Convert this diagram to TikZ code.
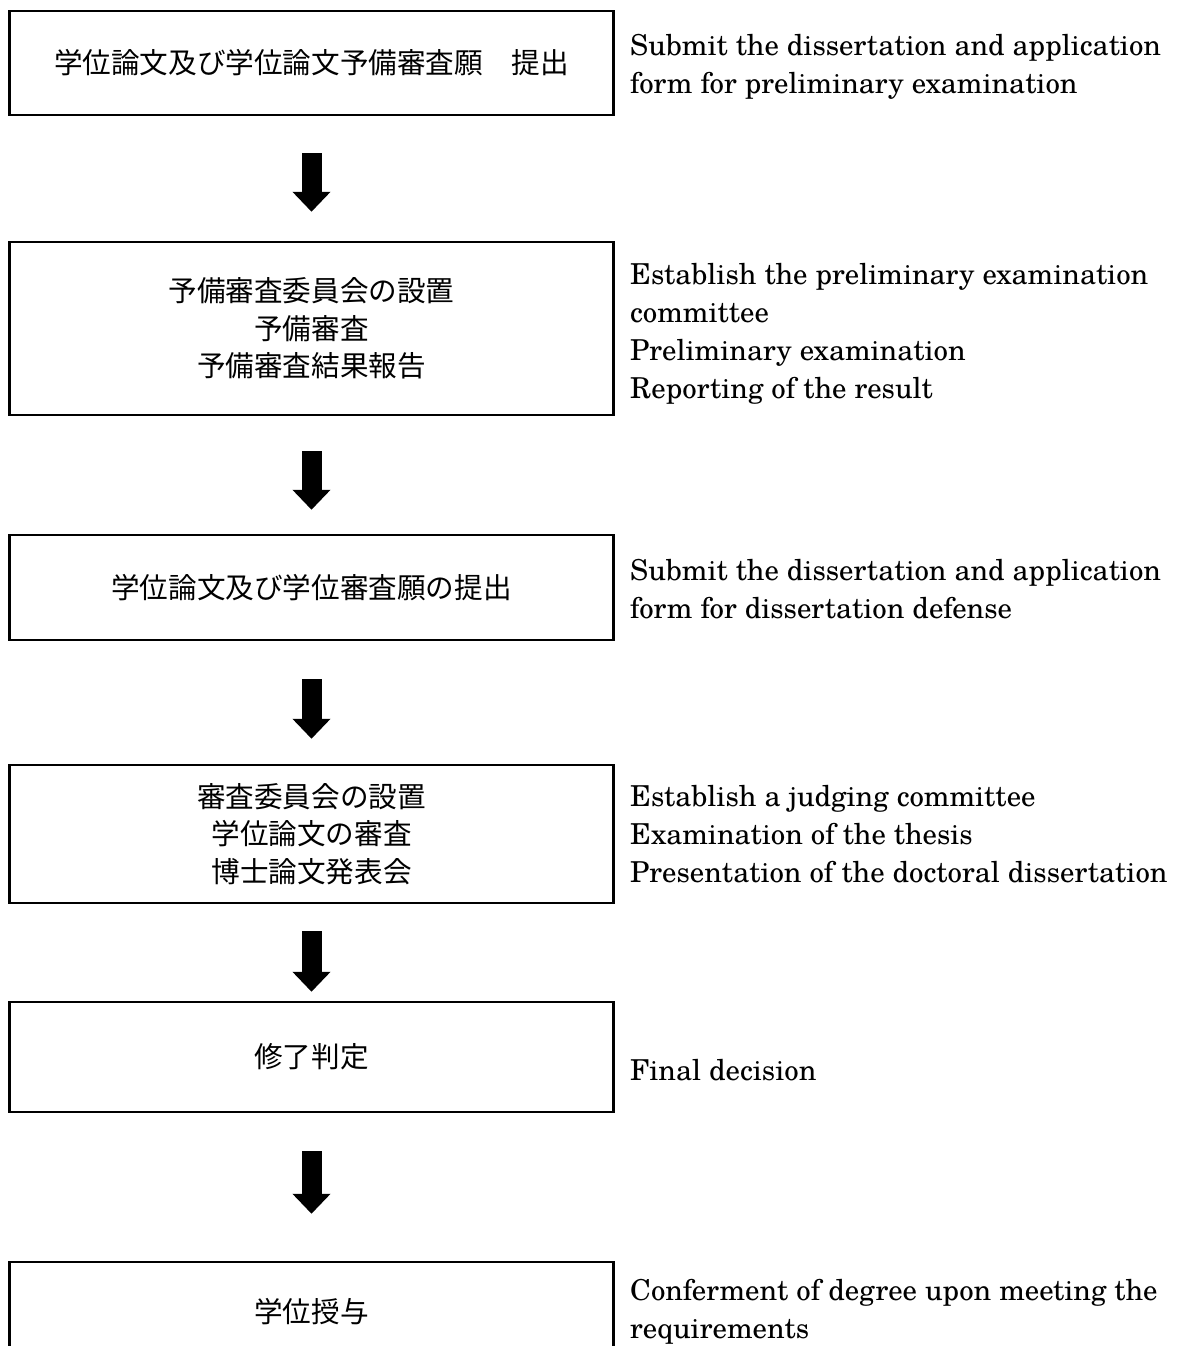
\documentclass[tikz,border=0pt]{standalone}
\usepackage{fontspec}
\newfontfamily\cjk{Noto Sans CJK JP}
\newfontfamily\engfont{texgyreschola-regular.otf}
\usetikzlibrary{arrows.meta}
\begin{document}
\begin{tikzpicture}[x=1pt,y=-1pt,
  box/.style={draw, line width=2.5pt, minimum width=604pt, inner sep=0pt, align=center,
    font=\cjk\fontsize{28.6}{37.5}\selectfont},
  desc/.style={anchor=base west, align=left, inner sep=0pt,
    font=\engfont\fontsize{28.8}{37.8}\selectfont},
  flow/.style={line width=20pt, -{Triangle[width=37pt,length=20pt]}}]
\useasboundingbox[fill=white] (0,0) rectangle (1178,1346);

\node[box, minimum height=104pt] (b1) at (311.5,63) {学位論文及び学位論文予備審査願　提出};
\node[box, minimum height=173pt] (b2) at (311.5,328.5) {予備審査委員会の設置\\予備審査\\予備審査結果報告};
\node[box, minimum height=105pt] (b3) at (311.5,587.5) {学位論文及び学位審査願の提出};
\node[box, minimum height=138pt] (b4) at (311.5,834) {審査委員会の設置\\学位論文の審査\\博士論文発表会};
\node[box, minimum height=110pt] (b5) at (311.5,1057) {修了判定};
\node[box, minimum height=116pt] (b6) at (311.5,1320) {\raisebox{20pt}{学位授与}};

% base anchor of a multi-line node = baseline of its last line
\node[desc] (e1) at (630,93) {Submit the dissertation and application\\form for preliminary examination};
\node[desc] (e2) at (630,398) {Establish the preliminary examination\\committee\\Preliminary examination\\Reporting of the result};
\node[desc] (e3) at (630,618) {Submit the dissertation and application\\form for dissertation defense};
\node[desc] (e4) at (630,882) {Establish a judging committee\\Examination of the thesis\\Presentation of the doctoral dissertation};
\node[desc] (e5) at (630,1080) {Final decision};
\node[desc] (e6) at (630,1338) {Conferment of degree upon meeting the\\requirements};

\draw[flow] ([yshift=-37pt]b1.south) -- ([yshift=29pt]b2.north);
\draw[flow] ([yshift=-35pt]b2.south) -- ([yshift=24pt]b3.north);
\draw[flow] ([yshift=-38pt]b3.south) -- ([yshift=25pt]b4.north);
\draw[flow] ([yshift=-27pt]b4.south) -- ([yshift=9pt]b5.north);
\draw[flow] ([yshift=-38pt]b5.south) -- ([yshift=47pt]b6.north);
\end{tikzpicture}
\end{document}
